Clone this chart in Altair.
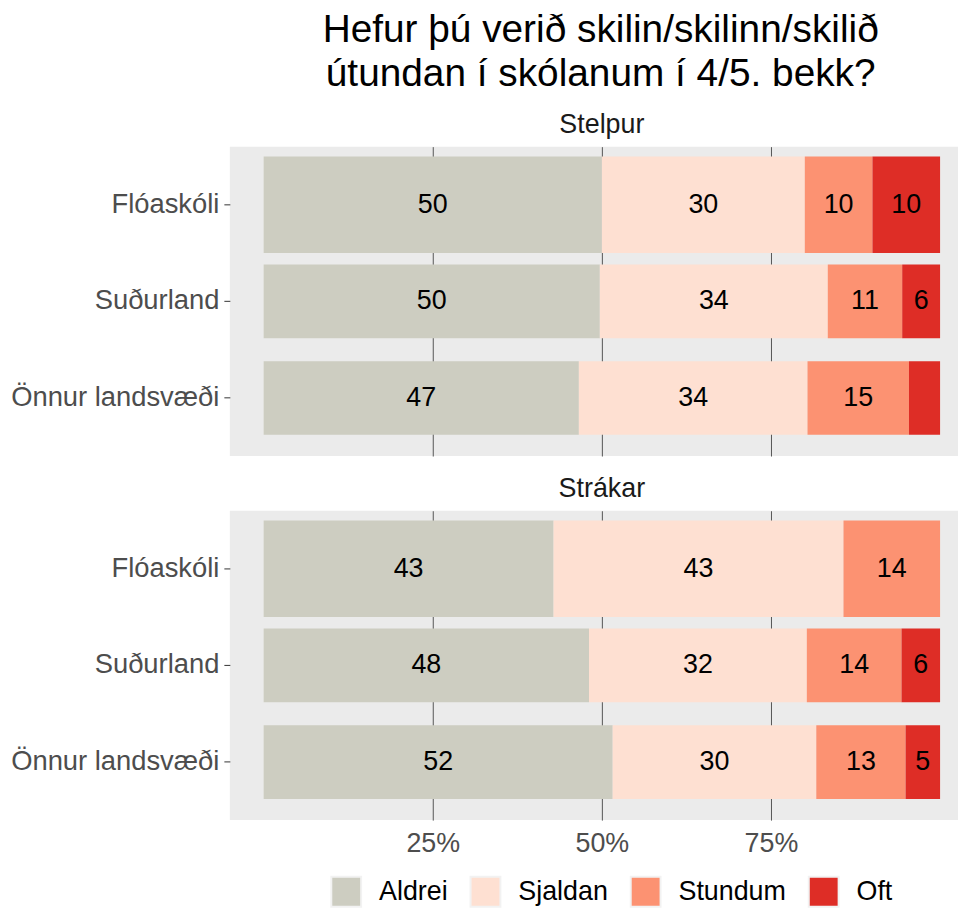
import altair as alt
import pandas as pd

genders = ["Stelpur", "Strákar"]
schools = ["Flóaskóli", "Suðurland", "Önnur landsvæði"]
answers = ["Aldrei", "Sjaldan", "Stundum", "Oft"]
colors = ["#CDCDC1", "#FEE0D2", "#FC9272", "#DE2D26"]

# percent per answer (Aldrei, Sjaldan, Stundum, Oft) for each school
stelpur_values = {
    "Flóaskóli": [50.0, 30.0, 10.0, 10.0],
    "Suðurland": [49.7, 33.7, 11.0, 5.6],
    "Önnur landsvæði": [46.6, 33.8, 15.0, 4.6],
}
strakar_values = {
    "Flóaskóli": [42.86, 42.86, 14.28, 0.0],
    "Suðurland": [48.1, 32.2, 14.0, 5.7],
    "Önnur landsvæði": [51.6, 30.1, 13.2, 5.1],
}

title_lines = ["Hefur þú verið skilin/skilinn/skilið", "útundan í skólanum í 4/5. bekk?"]

rows = []
for g, table in zip(genders, [stelpur_values, strakar_values]):
    for s in schools:
        for a, v in zip(answers, table[s]):
            rows.append({"gender": g, "school": s, "answer": a, "value": v})
df = pd.DataFrame(rows)

FONT = "Liberation Sans"

base = (
    alt.Chart(df)
    .transform_calculate(order="indexof(['Aldrei','Sjaldan','Stundum','Oft'], datum.answer)")
    .transform_stack(
        stack="value",
        groupby=["gender", "school"],
        as_=["v0", "v1"],
        sort=[alt.SortField("order", "ascending")],
    )
    .transform_calculate(x0="datum.v0/100", x1="datum.v1/100", mid="(datum.v0+datum.v1)/200")
)


def panel(g, bottom):
    xaxis = alt.Axis(
        values=[0.25, 0.5, 0.75],
        format=".0%",
        grid=True,
        gridColor="#555555",
        gridWidth=1,
        ticks=False,
        domain=False,
        labels=bottom,
        labelFontSize=27,
        labelColor="#4D4D4D",
        labelPadding=11,
        title=None,
    )
    xscale = alt.Scale(domain=[-0.05, 1.0265], nice=False, zero=False)
    yscale = alt.Scale(domain=schools, paddingInner=0, paddingOuter=0.1)
    yaxis = alt.Axis(
        title=None,
        domain=False,
        grid=False,
        labelFontSize=27.5,
        labelColor="#4D4D4D",
        labelLimit=0,
        tickColor="#333333",
        tickSize=6,
        tickWidth=1,
        labelPadding=5,
    )
    b = base.transform_filter(alt.datum.gender == g)
    bars = b.transform_filter("datum.value > 0").mark_bar().encode(
        x=alt.X("x0:Q", scale=xscale, axis=xaxis),
        x2="x1:Q",
        y=alt.Y("school:N", scale=yscale, axis=yaxis, sort=schools),
        color=alt.Color(
            "answer:N",
            scale=alt.Scale(domain=answers, range=colors),
            sort=answers,
            legend=alt.Legend(
                title=None,
                orient="none",
                direction="horizontal",
                legendX=101,
                legendY=733,
                symbolType="square",
                symbolSize=900,
                symbolStrokeColor="#F2F2F2",
                symbolStrokeWidth=2,
                symbolOpacity=1,
                labelFontSize=27,
                labelColor="#000000",
                labelOffset=17,
                columnPadding=18,
            ),
        ),
        size=alt.condition("datum.school === 'Flóaskóli'", alt.value(97), alt.value(74)),
    )
    text = b.transform_filter("datum.value >= 5").mark_text(
        fontSize=27, color="#000000", baseline="middle", align="center"
    ).encode(
        x=alt.X("mid:Q", scale=xscale),
        y=alt.Y("school:N", scale=yscale, sort=schools),
        text=alt.Text("value:Q", format=".0f"),
    )
    return alt.layer(bars, text).properties(
        width=732,
        height=311,
        title=alt.TitleParams(
            g, fontSize=27, color="#1A1A1A", fontWeight="normal", anchor="middle",
            frame="group", dx=8, offset=8,
        ),
    )


chart = (
    alt.vconcat(panel("Stelpur", False), panel("Strákar", True), spacing=19)
    .properties(
        title=alt.TitleParams(
            title_lines, fontSize=39, lineHeight=45, color="#000000", fontWeight="normal",
            anchor="middle", dx=117, dy=-3.5, offset=13, baseline="top",
        ),
        padding={"left": 2, "top": 0, "right": 0, "bottom": 0},
    )
    .configure(font=FONT)
    .configure_view(fill="#EBEBEB", stroke=None)
    .configure_title(font=FONT)
)

chart.save("out.html", embed_options={"renderer": "svg", "actions": False})
